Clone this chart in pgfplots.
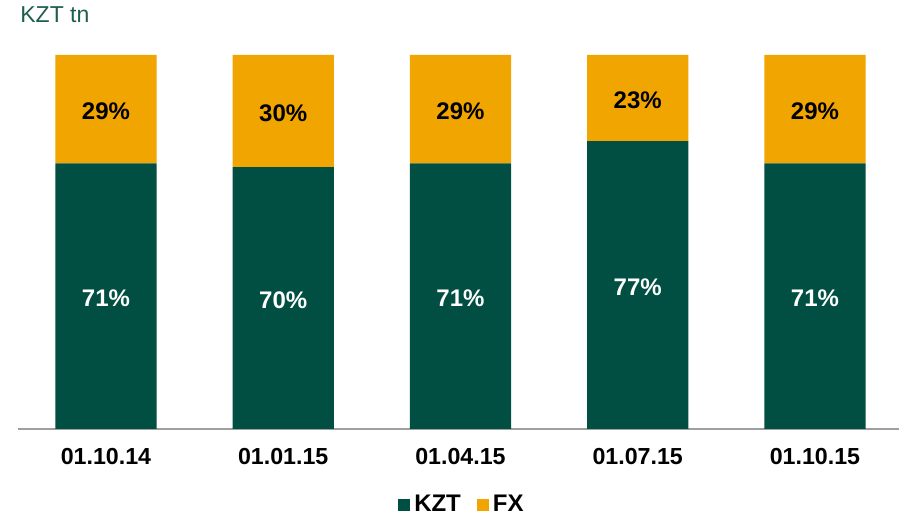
\documentclass[border=0pt]{standalone}
\usepackage{pgfplots}
\pgfplotsset{compat=1.18}
\usepackage{fontspec}
\setmainfont{Liberation Sans}
\definecolor{kzt}{HTML}{004F42}
\definecolor{fx}{HTML}{F0A500}
\definecolor{ttl}{HTML}{1E5E4E}
\pgfplotsset{base/.style={
  at={(9pt,44.5pt)}, anchor=south west,
  scale only axis, width=440.5pt, height=187pt,
  xmin=-0.4965, xmax=4.474, ymin=0, ymax=100}}
\begin{document}
\begin{tikzpicture}
\useasboundingbox (0,0) rectangle (449.5pt,259pt);
\node[anchor=west, text=ttl, font=\fontsize{11.5pt}{13pt}\selectfont, inner sep=0pt] at (10pt,251.5pt) {KZT tn};
\begin{axis}[base,
  ybar stacked, bar width=0.57,
  axis y line=none, axis x line*=bottom,
  x axis line style={draw=gray!75, line width=0.8pt},
  xtick={0,1,2,3,4},
  xticklabels={01.10.14,01.01.15,01.04.15,01.07.15,01.10.15},
  major tick length=0pt,
  xticklabel style={font=\fontsize{11.6pt}{13pt}\selectfont\bfseries, yshift=-6pt},
  legend columns=2,
  legend style={at={(0.505,-0.203)}, anchor=center, draw=none, fill=none,
    font=\fontsize{12pt}{14pt}\selectfont\bfseries,
    /tikz/every even column/.append style={column sep=6pt}},
  legend image code/.code={\fill[#1] (0pt,-3pt) rectangle (6pt,3pt);},
]
\addplot[fill=kzt, draw=none] coordinates {(0,71) (1,70) (2,71) (3,77) (4,71)};
\addplot[fill=fx, draw=none] coordinates {(0,29) (1,30) (2,29) (3,23) (4,29)};
\legend{KZT,FX}
\end{axis}
\begin{axis}[base, axis lines=none, ticks=none]
\addplot[draw=none, mark=none, nodes near coords, point meta=explicit symbolic,
  every node near coord/.style={anchor=center, yshift=-1pt, text=white, font=\fontsize{12pt}{14pt}\selectfont\bfseries}]
  coordinates {(0,35.5)[71\%] (1,35)[70\%] (2,35.5)[71\%] (3,38.5)[77\%] (4,35.5)[71\%]};
\addplot[draw=none, mark=none, nodes near coords, point meta=explicit symbolic,
  every node near coord/.style={anchor=center, yshift=-1pt, text=black, font=\fontsize{12pt}{14pt}\selectfont\bfseries}]
  coordinates {(0,85.5)[29\%] (1,85)[30\%] (2,85.5)[29\%] (3,88.5)[23\%] (4,85.5)[29\%]};
\end{axis}
\end{tikzpicture}
\end{document}
